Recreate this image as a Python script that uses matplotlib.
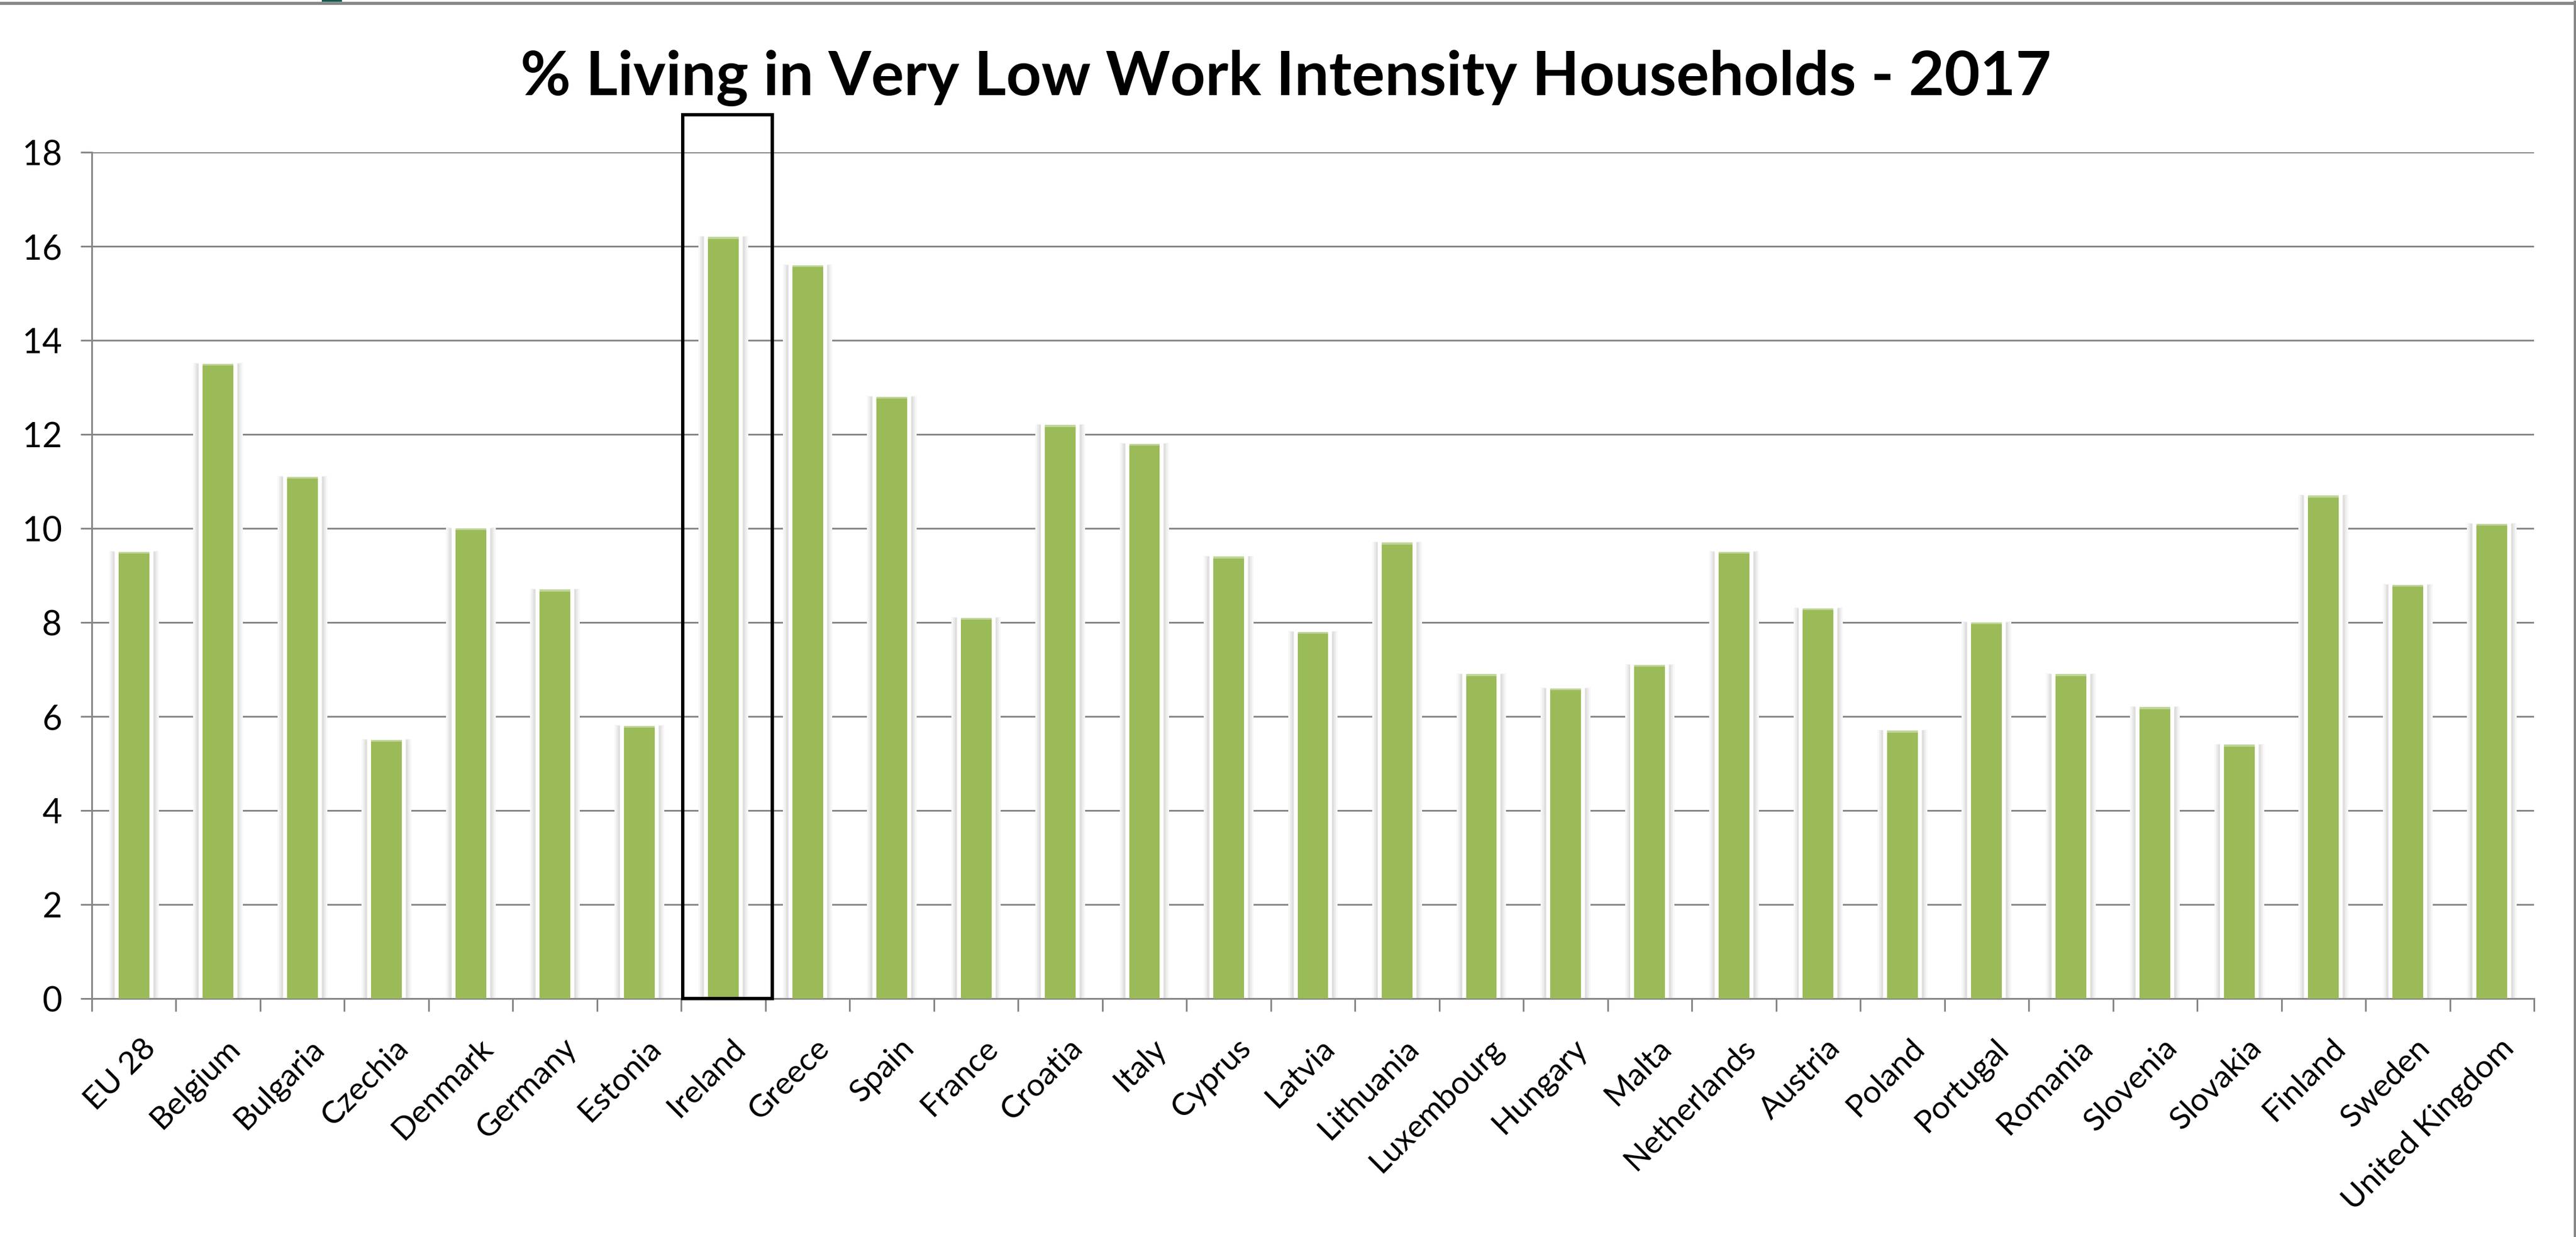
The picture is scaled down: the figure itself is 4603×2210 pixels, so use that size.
import numpy as np
import matplotlib
matplotlib.use('Agg')
import matplotlib.pyplot as plt
from matplotlib.lines import Line2D
from matplotlib.patches import Rectangle
from matplotlib.transforms import ScaledTranslation

# Share of population (%) living in very low work intensity households, 2017
countries = ['EU 28', 'Belgium', 'Bulgaria', 'Czechia', 'Denmark', 'Germany',
             'Estonia', 'Ireland', 'Greece', 'Spain', 'France', 'Croatia',
             'Italy', 'Cyprus', 'Latvia', 'Lithuania', 'Luxembourg', 'Hungary',
             'Malta', 'Netherlands', 'Austria', 'Poland', 'Portugal', 'Romania',
             'Slovenia', 'Slovakia', 'Finland', 'Sweden', 'United Kingdom']
values = [9.5, 13.5, 11.1, 5.5, 10.0, 8.7,
          5.8, 16.2, 15.6, 12.8, 8.1, 12.2,
          11.8, 9.4, 7.8, 9.7, 6.9, 6.6,
          7.1, 9.5, 8.3, 5.7, 8.0, 6.9,
          6.2, 5.4, 10.7, 8.8, 10.1]
highlight = 'Ireland'
title = '% Living in Very Low Work Intensity Households - 2017'

GREEN = '#9BBB59'
GREEN_TOP = '#C0D59A'
GREY = '#868686'

plt.rcParams['font.family'] = ['Lato', 'DejaVu Sans']

W, H = 4603, 2210
fig = plt.figure(figsize=(W / 100, H / 100), dpi=100)
ax = fig.add_axes([164 / W, 1 - 1784 / H, (4528 - 164) / W, (1784 - 272) / H])

x = np.arange(len(countries))
v = np.array(values)

# soft grey shadow and white halo behind each bar
ax.bar(x, v + 0.02, width=0.59, color='#f7f7f7', zorder=2.0)
ax.bar(x, v + 0.01, width=0.55, color='#ececec', zorder=2.1)
ax.bar(x, v, width=0.51, color='#dfdfdf', zorder=2.2)
ax.bar(x, v + 0.07, width=0.458, color='white', zorder=2.3)
ax.bar(x, v, width=0.365, color=GREEN, zorder=3)
# lighter cap along the top of each bar
ax.bar(x, 0.04, bottom=v - 0.04, width=0.365, color=GREEN_TOP, zorder=3.1)

# frame around the highlighted country
i = countries.index(highlight)
ax.add_patch(Rectangle((i - 0.484, 0), 1.064, 18.8, fill=False, ec='black',
                       lw=4.3, clip_on=False, zorder=6))

ax.set_xlim(-0.5, len(countries) - 0.5)
ax.set_ylim(0, 18)
ax.set_yticks(np.arange(0, 19, 2))
ax.yaxis.grid(True, color=GREY, lw=2.2)
ax.set_axisbelow(True)

ax.set_xticks(x)
ax.set_xticklabels(countries, rotation=45, ha='right', va='top',
                   rotation_mode='anchor', fontsize=41)
ax.set_xticks(np.arange(len(countries) + 1) - 0.5, minor=True)
ax.tick_params(axis='x', which='major', length=0, pad=45)
ax.tick_params(axis='x', which='minor', length=16.5, width=2.2, color=GREY,
               direction='out')
ax.tick_params(axis='y', length=14.4, width=2.2, color=GREY, pad=24,
               labelsize=44)
shift = ScaledTranslation(13 / 100, 0, fig.dpi_scale_trans)
for lab in ax.get_xticklabels():
    lab.set_transform(lab.get_transform() + shift)

for side in ['top', 'right']:
    ax.spines[side].set_visible(False)
for side in ['left', 'bottom']:
    ax.spines[side].set_color(GREY)
    ax.spines[side].set_linewidth(2.2)

fig.text(2298 / W, 1 - 170 / H, title, ha='center', va='baseline',
         fontsize=79, fontweight='bold')

# outer frame lines and the small tab at the top edge
fig.add_artist(Line2D([0, 1], [1 - 5.5 / H] * 2, transform=fig.transFigure,
                      color=GREY, lw=4.0))
fig.add_artist(Line2D([1 - 2.5 / W] * 2, [0, 1 - 3 / H],
                      transform=fig.transFigure, color=GREY, lw=3.6))
fig.add_artist(Rectangle((575 / W, 1 - 3 / H), 36 / W, 3 / H,
                         transform=fig.transFigure, color='#0F5C52', lw=0))

fig.savefig('out.png', dpi=100)
